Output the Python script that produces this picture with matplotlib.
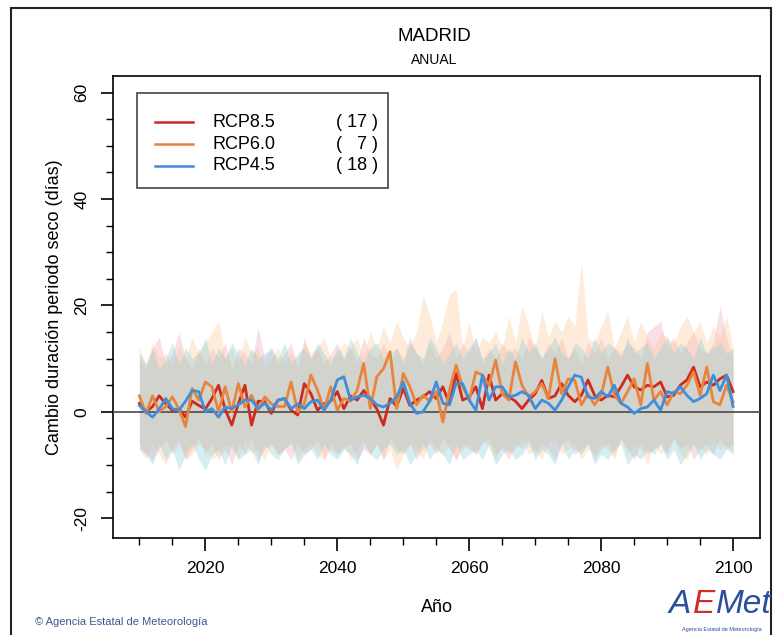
import numpy as np
import matplotlib
matplotlib.use('Agg')
import matplotlib.pyplot as plt
from matplotlib.patches import Rectangle

plt.rcParams['font.family'] = ['Liberation Sans', 'DejaVu Sans']
plt.rcParams['axes.unicode_minus'] = False

years = np.arange(2010, 2101)

# mean series (days)
rcp85 = [1.6, 0.0, 1.0, 3.0, 1.5, 0.3, 0.5, -1.0, 2.0, 1.2,
         0.5, 2.5, 5.0, 0.5, -2.5, 1.5, 5.0, -2.5, 2.0, 1.9,
         -0.3, 2.2, 2.5, 0.3, -0.6, 5.3, 3.4, 0.3, 1.5, 2.0,
         3.8, 0.6, 3.0, 2.2, 4.0, 2.5, 0.5, -2.5, 2.5, 1.0,
         4.4, 1.2, 2.2, 2.8, 3.8, 2.5, 4.7, 1.5, 7.2, 2.2,
         2.8, 4.7, 0.6, 6.9, 2.2, 3.4, 2.8, 2.0, 0.6, 2.2,
         3.4, 5.9, 2.5, 3.0, 5.3, 3.1, 1.9, 3.1, 6.0, 3.1,
         2.2, 3.1, 2.8, 4.7, 6.9, 4.7, 4.1, 5.0, 4.7, 5.6,
         2.8, 3.1, 5.0, 6.0, 8.4, 4.7, 5.6, 5.0, 6.2, 6.9,
         3.8]
rcp60 = [3.0, -0.3, 3.0, 0.0, 1.0, 2.8, 0.5, -2.8, 4.4, 2.2,
         5.6, 4.7, 0.0, 4.7, 0.0, 5.3, 0.9, 3.1, 0.3, 2.8,
         1.5, 1.0, 1.0, 5.6, 0.0, 1.5, 6.9, 4.1, 0.3, 4.7,
         0.3, 2.5, 2.0, 4.0, 9.1, 0.6, 6.6, 8.1, 11.3, 0.6,
         7.2, 4.7, 1.3, 3.1, 2.0, 3.8, -1.9, 4.0, 8.8, 4.7,
         2.2, 7.5, 6.9, 5.0, 9.7, 3.4, 2.2, 9.4, 5.0, 2.8,
         3.8, 5.3, 2.5, 10.0, 3.4, 6.2, 5.9, 1.3, 3.4, 1.3,
         3.1, 8.4, 3.1, 1.6, 3.8, 6.2, 1.3, 9.1, 2.2, 3.8,
         1.3, 3.8, 3.4, 5.0, 7.5, 3.1, 8.4, 1.9, 1.3, 5.0,
         1.9]
rcp45 = [1.2, 0.0, -1.0, 0.5, 2.5, 0.6, 0.3, 2.0, 4.0, 3.8,
         0.0, 0.6, -1.0, 0.9, 0.6, 1.3, 2.2, 2.2, 0.6, 1.6,
         0.3, 2.2, 2.5, 0.6, 1.5, 0.6, 1.9, 2.2, 0.3, 2.2,
         6.0, 6.6, 2.2, 2.8, 3.1, 2.5, 1.3, 0.9, 1.6, 2.8,
         5.6, 1.6, -0.3, 0.0, 2.0, 5.6, 1.6, 1.3, 5.3, 5.3,
         2.2, 0.3, 6.9, 2.2, 4.7, 4.7, 2.8, 3.1, 3.8, 3.1,
         0.6, 2.2, 1.6, 0.3, 2.2, 4.7, 6.9, 6.5, 2.8, 2.5,
         3.8, 2.8, 5.0, 1.6, 0.9, -0.3, 0.6, 0.9, 2.2, 0.3,
         3.8, 3.4, 4.7, 3.1, 1.9, 2.5, 3.4, 6.9, 4.0, 6.9,
         1.0]

# spread bands (upper / lower)
rcp85_hi = [10, 8, 12, 14, 9, 11, 15, 10, 8, 12,
            9, 12, 10, 13, 8, 12, 11, 9, 16, 10,
            12, 9, 11, 13, 8, 14, 10, 12, 9, 11,
            13, 10, 12, 9, 14, 11, 10, 13, 9, 12,
            10, 14, 11, 9, 13, 10, 12, 15, 10, 13,
            11, 14, 9, 12, 10, 13, 11, 12, 10, 14,
            12, 10, 13, 11, 14, 10, 12, 9, 13, 11,
            14, 10, 12, 11, 13, 12, 10, 15, 16, 17,
            12, 14, 11, 13, 15, 12, 11, 13, 20, 14,
            10]
rcp85_lo = [-6, -8, -9, -7, -5, -8, -6, -9, -7, -5,
            -8, -6, -9, -7, -10, -6, -8, -5, -9, -7,
            -6, -8, -7, -9, -6, -8, -7, -5, -9, -6,
            -8, -7, -6, -9, -7, -8, -6, -9, -5, -7,
            -8, -6, -9, -7, -6, -8, -5, -7, -9, -6,
            -7, -8, -6, -5, -8, -7, -9, -6, -7, -5,
            -8, -6, -7, -9, -6, -5, -8, -7, -6, -9,
            -7, -6, -8, -5, -7, -9, -6, -8, -7, -6,
            -8, -5, -7, -6, -9, -7, -6, -8, -5, -7,
            -6]
rcp60_hi = [12, 9, 13, 10, 11, 9, 12, 10, 14, 11,
            13, 15, 17, 10, 12, 9, 14, 11, 12, 8,
            10, 12, 9, 11, 10, 13, 11, 12, 14, 10,
            11, 13, 12, 14, 10, 15, 12, 16, 13, 17,
            14, 12, 15, 22, 18, 13, 17, 22, 23, 12,
            17, 11, 14, 13, 15, 12, 18, 13, 20, 16,
            12, 19, 14, 17, 15, 18, 16, 28, 14, 13,
            16, 19, 12, 15, 18, 13, 17, 14, 12, 15,
            14, 13, 16, 18, 15, 17, 13, 16, 14, 18,
            12]
rcp60_lo = [-7, -9, -6, -8, -10, -7, -5, -9, -8, -6,
            -7, -9, -8, -6, -7, -9, -5, -8, -7, -9,
            -6, -8, -7, -5, -9, -7, -6, -8, -9, -7,
            -8, -6, -9, -7, -5, -8, -6, -9, -7, -11,
            -8, -6, -7, -9, -5, -7, -8, -6, -9, -7,
            -6, -8, -5, -7, -9, -6, -8, -7, -5, -8,
            -7, -9, -6, -5, -8, -7, -6, -9, -7, -8,
            -6, -7, -9, -5, -8, -6, -7, -10, -6, -8,
            -7, -5, -8, -9, -6, -7, -8, -5, -7, -6,
            -8]
rcp45_hi = [11, 9, 12, 8, 10, 13, 9, 12, 10, 11,
            14, 9, 12, 10, 13, 11, 9, 12, 10, 11,
            12, 10, 13, 9, 11, 12, 10, 13, 11, 9,
            12, 10, 14, 11, 9, 12, 13, 10, 11, 12,
            9, 13, 11, 10, 14, 12, 9, 11, 13, 10,
            12, 14, 10, 11, 13, 9, 12, 10, 14, 11,
            13, 10, 12, 14, 11, 10, 13, 12, 10, 14,
            11, 13, 12, 10, 14, 11, 12, 13, 10, 12,
            14, 11, 13, 12, 10, 14, 11, 12, 13, 11,
            12]
rcp45_lo = [-7, -8, -10, -6, -9, -7, -11, -8, -6, -9,
            -11, -8, -7, -10, -6, -9, -8, -7, -10, -6,
            -8, -9, -7, -6, -10, -8, -7, -9, -6, -8,
            -9, -7, -8, -10, -6, -8, -9, -7, -6, -8,
            -7, -10, -8, -6, -9, -7, -8, -10, -6, -9,
            -8, -7, -9, -6, -10, -8, -7, -9, -8, -6,
            -9, -7, -8, -10, -6, -9, -7, -8, -6, -10,
            -8, -9, -7, -6, -10, -8, -9, -7, -8, -6,
            -9, -7, -10, -8, -6, -9, -7, -8, -9, -7,
            -8]

names = ['RCP8.5', 'RCP6.0', 'RCP4.5']
n_models = ['( 17 )', '(   7 )', '( 18 )']
means = [rcp85, rcp60, rcp45]
highs = [rcp85_hi, rcp60_hi, rcp45_hi]
lows = [rcp85_lo, rcp60_lo, rcp45_lo]
line_cols = ['#cf2a1f', '#e8843c', '#3d8fdc']
band_cols = ['#f0a0b9', '#fcc48c', '#82cdd7']

fig = plt.figure(figsize=(7.76, 6.35), dpi=100)
ax = fig.add_axes([0.1456, 0.153, 0.834, 0.727])

for hi, lo, c in zip(highs, lows, band_cols):
    ax.fill_between(years, lo, hi, color=c, alpha=0.33, lw=0)
ax.axhline(0, color='#555555', lw=1.3, zorder=3)
for m, c in zip(means, line_cols):
    ax.plot(years, m, color=c, lw=2.0, zorder=4)

ax.set_xlim(2006, 2104.1)
ax.set_ylim(-23.7, 63.1)
ax.set_xticks([2020, 2040, 2060, 2080, 2100])
ax.set_xticks(np.arange(2010, 2101, 5), minor=True)
ax.set_yticks([-20, 0, 20, 40, 60])
ax.set_yticks(np.arange(-20, 61, 5), minor=True)
ax.tick_params(which='major', direction='out', length=9, width=1.2, labelsize=12.5, pad=8)
ax.tick_params(which='minor', direction='out', length=5, width=1.0)
for lab in ax.get_yticklabels():
    lab.set_rotation(90)
    lab.set_va('center')
for s in ax.spines.values():
    s.set_linewidth(1.2)

ax.set_xlabel('Año', fontsize=13, labelpad=16)
ax.set_ylabel('Cambio duración periodo seco (días)', fontsize=13, labelpad=8)

# legend box drawn by hand to keep the two text columns
ax.add_patch(Rectangle((0.037, 0.757), 0.388, 0.207, transform=ax.transAxes,
                       fill=False, ec='#444444', lw=1.2, zorder=5))
for i, (nm, nmod, c) in enumerate(zip(names, n_models, line_cols)):
    yy = 0.9 - i * 0.047
    ax.plot([0.065, 0.124], [yy, yy], color=c, lw=1.8, transform=ax.transAxes, zorder=6)
    ax.text(0.153, yy, nm, fontsize=13, va='center', transform=ax.transAxes, zorder=6)
    ax.text(0.41, yy, nmod, fontsize=13, va='center', ha='right', transform=ax.transAxes, zorder=6)

fig.text(0.56, 0.942, 'MADRID', ha='center', va='center', fontsize=13.5)
fig.text(0.56, 0.905, 'ANUAL', ha='center', va='center', fontsize=10)

# outer frame
fig.add_artist(Rectangle((0.014, -0.01), 0.98, 0.997, transform=fig.transFigure,
                         fill=False, ec='#222222', lw=1.5))

fig.text(0.045, 0.02, '© Agencia Estatal de Meteorología', fontsize=8, color='#3b5a8c', va='center')
fig.text(0.862, 0.048, 'A', fontsize=24, color='#2a4f9c', style='italic', va='center')
fig.text(0.893, 0.048, 'E', fontsize=24, color='#d42a26', style='italic', va='center')
fig.text(0.922, 0.048, 'Met', fontsize=24, color='#2a4f9c', style='italic', va='center')
fig.text(0.93, 0.008, 'Agencia Estatal de Meteorología', fontsize=4, color='#2a4f9c',
         ha='center', va='center')

plt.savefig('out.png', dpi=100)
